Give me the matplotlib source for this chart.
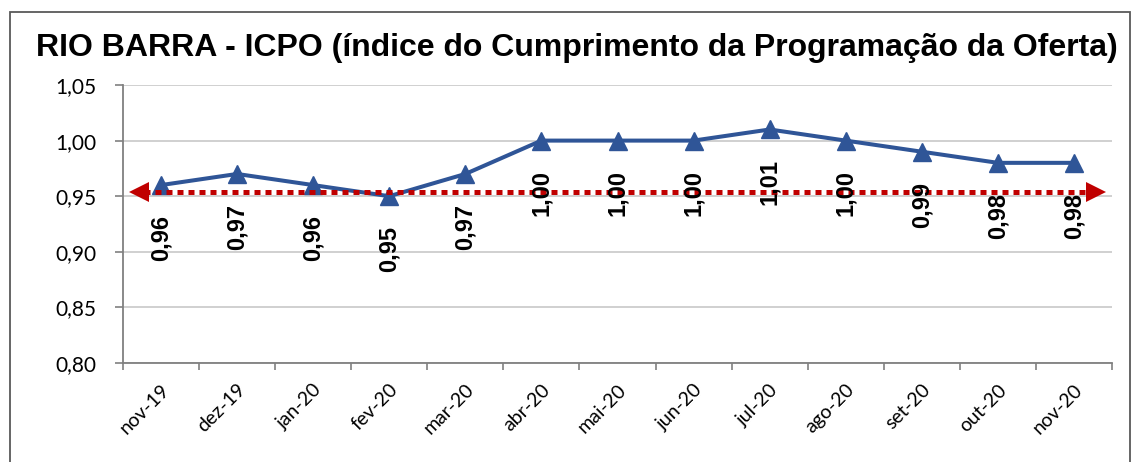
import matplotlib
matplotlib.use("Agg")
import matplotlib.pyplot as plt
from matplotlib.patches import Rectangle

months = ["nov-19", "dez-19", "jan-20", "fev-20", "mar-20", "abr-20", "mai-20",
          "jun-20", "jul-20", "ago-20", "set-20", "out-20", "nov-20"]
icpo = [0.96, 0.97, 0.96, 0.95, 0.97, 1.00, 1.00, 1.00, 1.01, 1.00, 0.99, 0.98, 0.98]
meta = 0.954
yticks = [0.80, 0.85, 0.90, 0.95, 1.00, 1.05]
title = "RIO BARRA - ICPO (índice do Cumprimento da Programação da Oferta)"

W, H = 1131, 462
fig = plt.figure(figsize=(W / 100, H / 100), dpi=100)
ax = fig.add_axes([123 / W, 1 - 363 / H, (1112 - 123) / W, (363 - 85) / H])

x = list(range(len(months)))
blue = "#2F5597"
red = "#C00000"

# target (red dotted line with arrow heads)
x0, x1 = -0.42, len(months) - 1 + 0.42
ax.plot([x0 + 0.2, x1 - 0.2], [meta, meta], color=red, lw=3.6,
        linestyle=(0, (1.2, 1.0)), zorder=4, solid_capstyle="butt")
ax.plot([x0 + 0.13], [meta], marker="<", color=red, ms=14, mew=0, zorder=4)
ax.plot([x1 - 0.13], [meta], marker=">", color=red, ms=14, mew=0, zorder=4)

# main series
ax.plot(x, icpo, color=blue, lw=2.9, marker="^", ms=13.5, mec=blue, mfc=blue, zorder=3)

for xi, v in zip(x, icpo):
    ax.annotate(f"{v:.2f}".replace(".", ","), (xi, v), xytext=(0, -21.5),
                textcoords="offset points", rotation=90, ha="center", va="top",
                fontsize=17, fontweight="bold", family="Liberation Sans",
                color="black", zorder=5)

ax.set_xlim(-0.5, len(months) - 0.5)
ax.set_ylim(0.80, 1.05)
ax.set_yticks(yticks)
ax.set_yticklabels([f"{t:.2f}".replace(".", ",") for t in yticks],
                   family="Lato", fontsize=15)
ax.set_xticks(x)
ax.set_xticklabels(months, rotation=45, ha="right", va="top",
                   rotation_mode="anchor", family="Lato", fontsize=14)
ax.set_xticks([i - 0.5 for i in range(len(months) + 1)], minor=True)
ax.tick_params(axis="x", which="major", length=0, pad=13)
ax.tick_params(axis="x", which="minor", length=5, width=1.2, color="#808080", direction="out")
ax.tick_params(axis="y", length=6, width=1.2, color="#808080", pad=13)

ax.grid(axis="y", color="#C8C8C8", lw=1.2)
ax.set_axisbelow(True)
for s in ["top", "right"]:
    ax.spines[s].set_visible(False)
for s in ["left", "bottom"]:
    ax.spines[s].set_color("#808080")
    ax.spines[s].set_linewidth(1.3)

fig.text(577 / W, 1 - 48 / H, title, ha="center", va="center",
         fontsize=23, fontweight="bold", family="Liberation Sans")

fig.patches.append(Rectangle((10 / W, -0.05), (1129.5 - 10) / W, 1.05 - 12 / H,
                             transform=fig.transFigure, fill=False,
                             edgecolor="#595959", lw=1.3))

fig.savefig("out.png", dpi=100)
